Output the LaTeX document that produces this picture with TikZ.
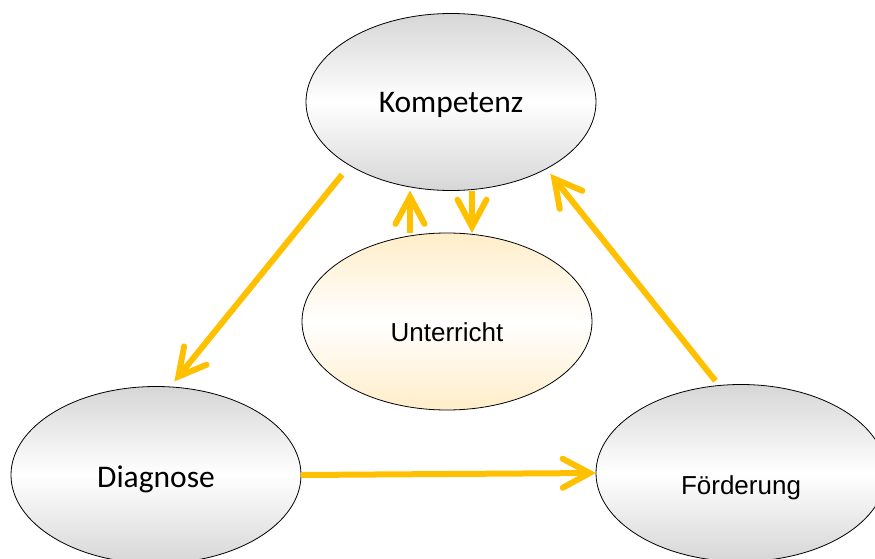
\documentclass[tikz,border=0pt]{standalone}
\usepackage{fontspec}
\setmainfont{Carlito}
\newfontfamily\arialfont{Liberation Sans}
\usetikzlibrary{shapes.geometric,arrows.meta}

\definecolor{goldgelb}{HTML}{FFC000}
\definecolor{hellorange}{HTML}{FFEDC8}

\tikzset{
  feld/.style={ellipse, draw=black, line width=0.8pt, minimum width=290pt, minimum height=177pt,
    inner sep=0pt, outer sep=0pt, top color=gray!32, bottom color=gray!32, middle color=white},
  calibri/.style={font=\fontsize{31.5}{36}\selectfont, text depth=0pt},
  arial/.style={font=\arialfont\fontsize{26}{30}\selectfont, text depth=0pt},
  pfeil/.style={draw=goldgelb, line width=6pt, -{Straight Barb[length=27pt,width=29pt,line cap=round]}},
}

\begin{document}
\begin{tikzpicture}[x=1pt,y=-1pt]
\useasboundingbox (0,0) rectangle (875,559);

\node[feld, calibri, text height=22pt] (komp) at (451,102) {Kompetenz};
\node[feld, arial, text height=40pt, top color=hellorange, bottom color=hellorange, middle color=white] (unt) at (447,321.5) {Unterricht};
\node[feld, calibri, text height=24pt] (diag) at (156,475) {Diagnose};
\node[feld, arial, text height=42pt] (foerd) at (741,473) {Förderung};

\draw[pfeil, shorten <=12pt, shorten >=7pt] (komp.212) -- (diag.81);
\draw[pfeil] (diag.east) -- (foerd.west);
\draw[pfeil, shorten <=6pt, shorten >=6.5pt] (foerd.104) -- (komp.325);
\draw[pfeil] ([xshift=-37pt]unt.north) -- ([xshift=-37pt]unt.north |- komp.south);
\draw[pfeil] ([xshift=21pt]komp.south) -- ([xshift=21pt]komp.south |- unt.north);
\end{tikzpicture}
\end{document}
